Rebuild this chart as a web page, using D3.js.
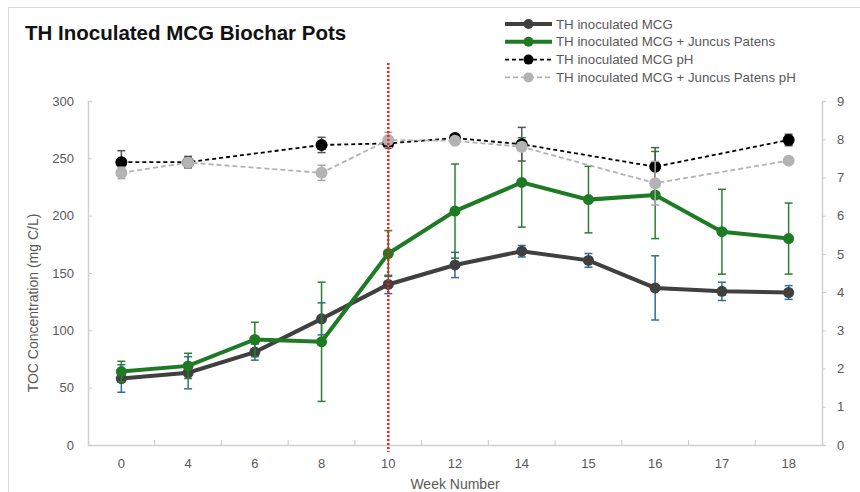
<!DOCTYPE html>
<html>
<head>
<meta charset="utf-8">
<script src="https://cdn.jsdelivr.net/npm/d3@7"></script>
<style>
  body { margin: 0; background: #fff; }
  text { font-family: "Liberation Sans", Arial, sans-serif; }
</style>
</head>
<body>
<div id="chart"></div>
<script>
'use strict';

// Data
const weeks = ['0', '4', '6', '8', '10', '12', '14', '15', '16', '17', '18'];

const tocMcg = [58, 63, 81, 110, 140, 157, 169, 161, 137, 134, 133];
const tocMcgErr = [12, 14, 7, 14, 8, 11, 5, 6, 28, 8, 6];

const tocJuncus = [64, 69, 92, 90, 167, 204, 229, 214, 218, 186, 180];
const tocJuncusErr = [9, 11, 15, 52, 20, 41, 39, 29, 38, 37, 31];

const phMcg = [7.40, 7.40, null, 7.85, 7.89, 8.03, 7.87, null, 7.28, null, 7.98];
const phMcgErr = [0.3, 0.15, null, 0.2, 0.1, 0.08, 0.44, null, 0.5, null, 0.15];

const phJuncus = [7.12, 7.39, null, 7.12, 7.98, 7.96, 7.80, null, 6.85, null, 7.44];
const phJuncusErr = [0.15, 0.1, null, 0.2, 0.2, 0.05, 0.1, null, 0.57, null, 0.05];

const leftTicks = [0, 50, 100, 150, 200, 250, 300];
const rightTicks = [0, 1, 2, 3, 4, 5, 6, 7, 8, 9];
const markerWeek = '10';

const width = 860;
const height = 492;
const margin = { top: 101, right: 38, bottom: 47, left: 88 };

const svg = d3.select('#chart').append('svg')
  .attr('width', width)
  .attr('height', height);

// chart border
svg.append('rect')
  .attr('x', 8.5).attr('y', 7.5)
  .attr('width', width - 6).attr('height', height)
  .attr('fill', 'none')
  .attr('stroke', '#d9d9d9');

// Scales
const x = d3.scaleBand()
  .domain(weeks)
  .range([margin.left, width - margin.right])
  .padding(0);
const cx = (w) => x(w) + x.bandwidth() / 2;

const yLeft = d3.scaleLinear()
  .domain([0, 300])
  .range([height - margin.bottom, margin.top]);
const yRight = d3.scaleLinear()
  .domain([0, 9])
  .range([height - margin.bottom, margin.top]);

const axisColor = '#d0d0d0';
const labelColor = '#595959';

// Axes
const gx = svg.append('g')
  .attr('transform', 'translate(0,' + (height - margin.bottom) + ')')
  .call(d3.axisBottom(x).tickSize(0).tickPadding(14));
gx.select('.domain').attr('stroke', axisColor).attr('stroke-width', 1.5);
gx.selectAll('text').attr('fill', labelColor).attr('font-size', 13);

// tick marks between categories
gx.selectAll('.sep')
  .data(weeks.slice(1))
  .enter().append('line')
  .attr('x1', (d) => x(d)).attr('x2', (d) => x(d))
  .attr('y1', 0).attr('y2', -5)
  .attr('stroke', axisColor).attr('stroke-width', 1.2);

const gl = svg.append('g')
  .attr('transform', 'translate(' + margin.left + ',0)')
  .call(d3.axisLeft(yLeft).tickValues(leftTicks).tickSize(-4).tickPadding(14));
gl.select('.domain').attr('stroke', axisColor).attr('stroke-width', 1.5);
gl.selectAll('.tick line').attr('stroke', axisColor);
gl.selectAll('text').attr('fill', labelColor).attr('font-size', 13);

const gr = svg.append('g')
  .attr('transform', 'translate(' + (width - margin.right) + ',0)')
  .call(d3.axisRight(yRight).tickValues(rightTicks).tickSize(4).tickPadding(11));
gr.select('.domain').attr('stroke', axisColor).attr('stroke-width', 1.5);
gr.selectAll('.tick line').attr('stroke', axisColor);
gr.selectAll('text').attr('fill', labelColor).attr('font-size', 13);

// Axis titles
svg.append('text')
  .attr('x', (margin.left + width - margin.right) / 2)
  .attr('y', 489)
  .attr('text-anchor', 'middle')
  .attr('fill', labelColor)
  .attr('font-size', 14)
  .text('Week Number');

svg.append('text')
  .attr('transform', 'translate(38,303) rotate(-90)')
  .attr('text-anchor', 'middle')
  .attr('fill', labelColor)
  .attr('font-size', 14)
  .text('TOC Concentration (mg C/L)');

// Title
svg.append('text')
  .attr('x', 25)
  .attr('y', 40)
  .attr('font-size', 20.5)
  .attr('font-weight', 'bold')
  .attr('fill', '#111')
  .text('TH Inoculated MCG Biochar Pots');

// Series definitions
const series = [
  { name: 'TH inoculated MCG', values: tocMcg, errs: tocMcgErr, y: yLeft,
    color: '#404040', errColor: '#2e6e9a', width: 4, dash: null, r: 5.5 },
  { name: 'TH inoculated MCG + Juncus Patens', values: tocJuncus, errs: tocJuncusErr, y: yLeft,
    color: '#1f7a24', errColor: '#2a8030', width: 4, dash: null, r: 5.5 },
  { name: 'TH inoculated MCG pH', values: phMcg, errs: phMcgErr, y: yRight,
    color: '#000000', errColor: '#555555', width: 1.8, dash: '4,3', r: 6 },
  { name: 'TH inoculated MCG + Juncus Patens pH', values: phJuncus, errs: phJuncusErr, y: yRight,
    color: '#b3b3b3', errColor: '#a6a6a6', width: 1.8, dash: '5,3', r: 6 }
];

series.forEach((s) => {
  const pts = weeks.map((w, i) => ({ w: w, v: s.values[i], e: s.errs[i] }))
    .filter((d) => d.v !== null);
  const g = svg.append('g');

  // error bars
  const eb = g.selectAll('.err').data(pts).enter().append('g')
    .attr('stroke', s.errColor).attr('stroke-width', 1.5);
  eb.append('line')
    .attr('x1', (d) => cx(d.w)).attr('x2', (d) => cx(d.w))
    .attr('y1', (d) => s.y(d.v - d.e)).attr('y2', (d) => s.y(d.v + d.e));
  eb.append('line')
    .attr('x1', (d) => cx(d.w) - 4).attr('x2', (d) => cx(d.w) + 4)
    .attr('y1', (d) => s.y(d.v - d.e)).attr('y2', (d) => s.y(d.v - d.e));
  eb.append('line')
    .attr('x1', (d) => cx(d.w) - 4).attr('x2', (d) => cx(d.w) + 4)
    .attr('y1', (d) => s.y(d.v + d.e)).attr('y2', (d) => s.y(d.v + d.e));

  const line = d3.line()
    .x((d) => cx(d.w))
    .y((d) => s.y(d.v));
  g.append('path')
    .datum(pts)
    .attr('d', line)
    .attr('fill', 'none')
    .attr('stroke', s.color)
    .attr('stroke-width', s.width)
    .attr('stroke-dasharray', s.dash);

  g.selectAll('circle').data(pts).enter().append('circle')
    .attr('cx', (d) => cx(d.w))
    .attr('cy', (d) => s.y(d.v))
    .attr('r', s.r)
    .attr('fill', s.color);
});

// Red dotted marker line at week 10
svg.append('line')
  .attr('x1', cx(markerWeek)).attr('x2', cx(markerWeek))
  .attr('y1', 63).attr('y2', 452)
  .attr('stroke', '#ff1a1a')
  .attr('stroke-width', 2.5)
  .attr('stroke-dasharray', '2,2');

// Legend
const legend = svg.append('g').attr('transform', 'translate(505,24)');
series.forEach((s, i) => {
  const row = legend.append('g').attr('transform', 'translate(0,' + (i * 17.8) + ')');
  row.append('line')
    .attr('x1', 0).attr('x2', 47)
    .attr('stroke', s.color)
    .attr('stroke-width', s.width)
    .attr('stroke-dasharray', s.dash);
  row.append('circle')
    .attr('cx', 23.5).attr('r', 5)
    .attr('fill', s.color);
  row.append('text')
    .attr('x', 51)
    .attr('dy', '0.35em')
    .attr('font-size', 13.3)
    .attr('fill', labelColor)
    .text(s.name);
});
</script>
</body>
</html>
